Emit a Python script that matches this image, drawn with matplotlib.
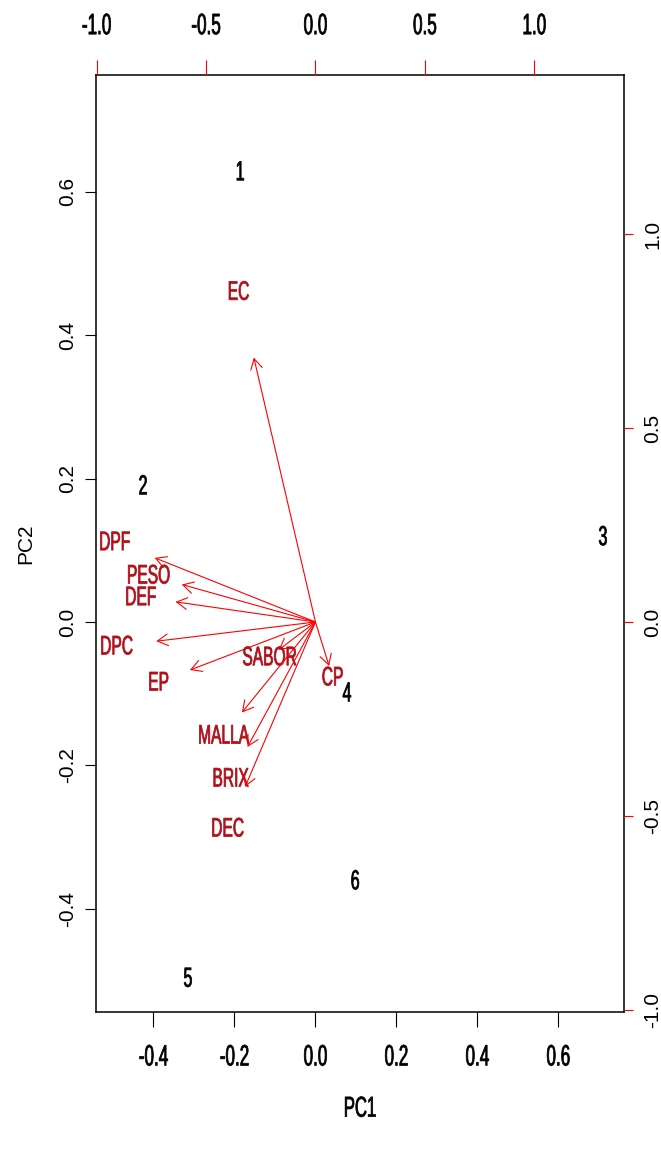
import matplotlib
matplotlib.use("Agg")
import matplotlib.pyplot as plt
from matplotlib.patheffects import AbstractPathEffect
from matplotlib.transforms import Affine2D
from matplotlib.ticker import FixedLocator, FormatStrFormatter

# ---------------- data ----------------
obs_labels = ['1', '2', '3', '4', '5', '6']
pc1_scores = [-0.186, -0.426, 0.710, 0.078, -0.315, 0.098]
pc2_scores = [0.628, 0.190, 0.119, -0.099, -0.497, -0.361]

var_names = ['EC', 'DPF', 'PESO', 'DEF', 'DPC', 'EP', 'SABOR', 'CP', 'MALLA', 'BRIX', 'DEC']
load_pc1 = [-0.352, -0.918, -0.763, -0.799, -0.909, -0.717, -0.210, 0.078, -0.420, -0.388, -0.402]
load_pc2 = [0.853, 0.207, 0.121, 0.065, -0.062, -0.155, -0.090, -0.142, -0.292, -0.403, -0.532]

bottom_ticks = [-0.4, -0.2, 0.0, 0.2, 0.4, 0.6]
left_ticks = [-0.4, -0.2, 0.0, 0.2, 0.4, 0.6]
top_ticks = [-1.0, -0.5, 0.0, 0.5, 1.0]
right_ticks = [-1.0, -0.5, 0.0, 0.5, 1.0]

xlim = (-0.542, 0.762)
ylim = (-0.544, 0.763)
ratio = 1.85
arrow_frac = 0.8

# ---------------- style ----------------
plt.rcParams['font.family'] = ['Liberation Sans', 'DejaVu Sans']
plt.rcParams['axes.unicode_minus'] = False

VAR_COLOR = '#B0101A'
ARROW_COLOR = '#FF0000'


class VStretch(AbstractPathEffect):
    """Stretch rendered glyphs vertically around their centre (slightly emboldened)."""
    def __init__(self, s, stroke=0.0):
        super().__init__()
        self.s = s
        self.stroke = stroke

    def draw_path(self, renderer, gc, tpath, affine, rgbFace=None):
        ext = tpath.get_extents(affine)
        cx = 0.5 * (ext.x0 + ext.x1)
        cy = 0.5 * (ext.y0 + ext.y1)
        t = affine + Affine2D().translate(-cx, -cy).scale(1.0, self.s).translate(cx, cy)
        if self.stroke > 0 and rgbFace is not None:
            gc0 = renderer.new_gc()
            gc0.copy_properties(gc)
            gc0.set_linewidth(self.stroke)
            gc0.set_foreground(rgbFace)
            renderer.draw_path(gc0, tpath, t, rgbFace)
            gc0.restore()
        else:
            renderer.draw_path(gc, tpath, t, rgbFace)


stretch = [VStretch(1.72, 0.55)]

W, H = 661, 1153
fig = plt.figure(figsize=(W / 100, H / 100), dpi=100, facecolor='white')
rect = [96 / W, (H - 1012) / H, 528 / W, (1012 - 75) / H]

ax = fig.add_axes(rect)
ax.set_xlim(*xlim)
ax.set_ylim(*ylim)
for sp in ax.spines.values():
    sp.set_linewidth(1.1)
    sp.set_color('black')

ax.xaxis.set_major_locator(FixedLocator(bottom_ticks))
ax.yaxis.set_major_locator(FixedLocator(left_ticks))
ax.xaxis.set_major_formatter(FormatStrFormatter('%.1f'))
ax.yaxis.set_major_formatter(FormatStrFormatter('%.1f'))
ax.tick_params(axis='x', direction='out', length=10.8, width=0.8, pad=16, labelsize=12.3)
ax.tick_params(axis='y', direction='out', length=7.7, width=0.8, pad=6.2, labelsize=15)
for lab in ax.get_xticklabels():
    lab.set_path_effects(stretch)
for lab in ax.get_yticklabels():
    lab.set_rotation(90)
    lab.set_va('center')

ax.set_xlabel('PC1', fontsize=12, va='center')
ax.xaxis.label.set_path_effects(stretch)
ax.xaxis.set_label_coords(0.5, (1012 - 1108) / (1012 - 75))
ax.set_ylabel('PC2', fontsize=15, va='center')
ax.yaxis.set_label_coords((26 - 96) / 528, 0.5)

# observation scores
for lab, x, y in zip(obs_labels, pc1_scores, pc2_scores):
    ax.text(x, y, lab, ha='center', va='center', fontsize=11.5, color='black',
            path_effects=stretch)

# secondary axes for loadings
ax2 = fig.add_axes(rect, frameon=False)
ax2.set_xlim(xlim[0] * ratio, xlim[1] * ratio)
ax2.set_ylim(ylim[0] * ratio, ylim[1] * ratio)
ax2.patch.set_visible(False)
ax2.xaxis.tick_top()
ax2.yaxis.tick_right()
ax2.xaxis.set_major_locator(FixedLocator(top_ticks))
ax2.yaxis.set_major_locator(FixedLocator(right_ticks))
ax2.xaxis.set_major_formatter(FormatStrFormatter('%.1f'))
ax2.yaxis.set_major_formatter(FormatStrFormatter('%.1f'))
ax2.tick_params(axis='x', direction='out', length=10.8, width=0.8, pad=19.5,
                labelsize=12.3, color=ARROW_COLOR, labelcolor='black')
ax2.tick_params(axis='y', direction='out', length=6.5, width=0.8, pad=7.5,
                labelsize=15, color=ARROW_COLOR, labelcolor='black')
for lab in ax2.get_xticklabels():
    lab.set_path_effects(stretch)
for lab in ax2.get_yticklabels():
    lab.set_rotation(90)
    lab.set_va('center')

for name, lx, ly in zip(var_names, load_pc1, load_pc2):
    ax2.annotate('', xy=(arrow_frac * lx, arrow_frac * ly), xytext=(0, 0),
                 arrowprops=dict(arrowstyle='->,head_length=0.75,head_width=0.42',
                                 color=ARROW_COLOR, lw=0.8, shrinkA=0, shrinkB=0,
                                 mutation_scale=10))
    ax2.text(lx, ly, name, ha='center', va='center', fontsize=11.2,
             color=VAR_COLOR, path_effects=stretch)

fig.savefig('out.png', dpi=100, facecolor='white')
